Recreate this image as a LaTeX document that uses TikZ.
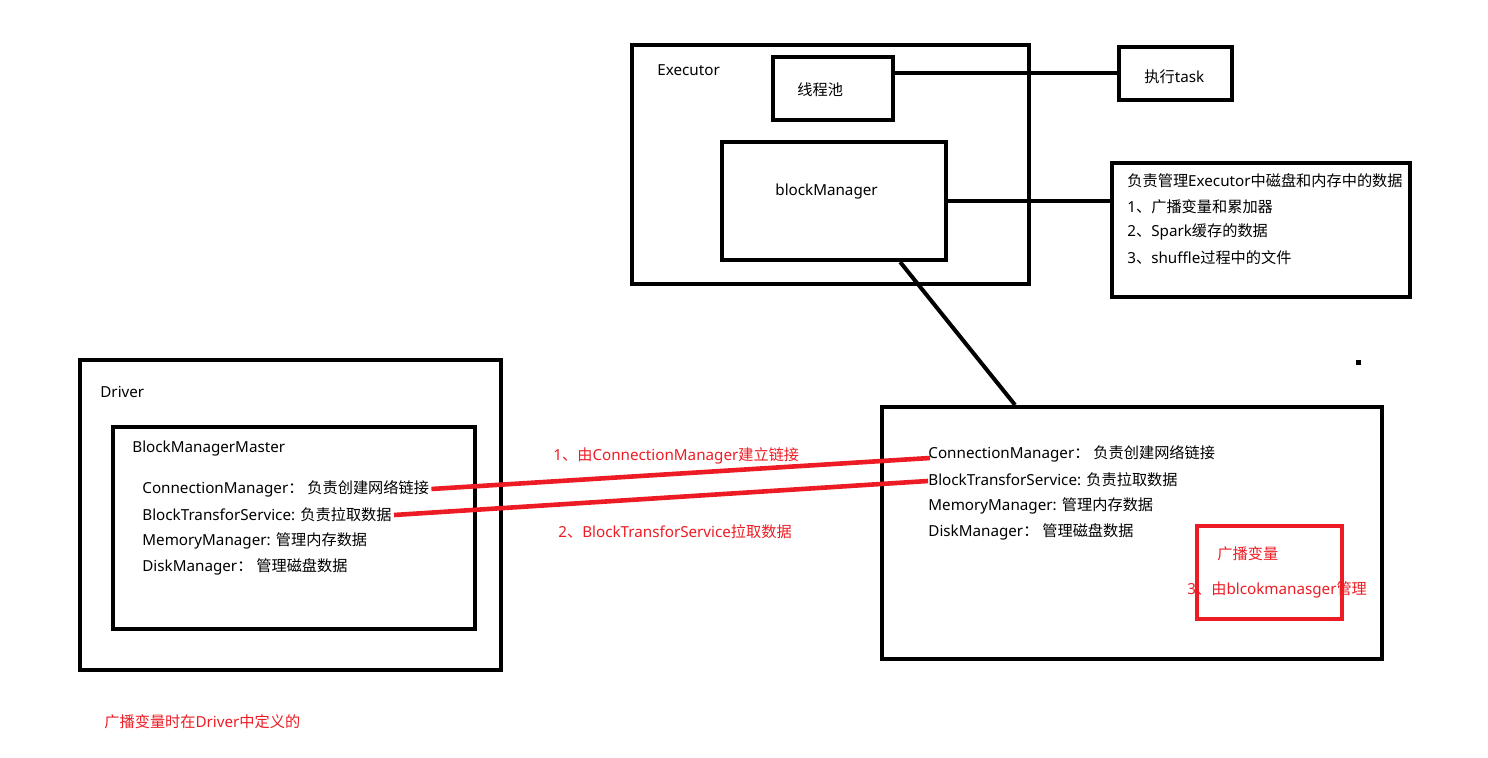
\documentclass[tikz,border=0pt]{standalone}
\usepackage{fontspec}
\setmainfont{Noto Sans}
\newfontfamily\cjk{Noto Sans CJK SC}
\newcommand{\zh}[1]{{\cjk #1}}
\usetikzlibrary{fit,calc}
\definecolor{paintred}{RGB}{237,28,36}
\tikzset{
  box/.style={draw, line width=2pt, inner sep=0pt},
  redbox/.style={draw=paintred, line width=2pt, inner sep=0pt},
  txt/.style={anchor=west, inner sep=1pt, font=\fontsize{7.6}{9}\selectfont},
  redtxt/.style={txt, text=paintred},
  link/.style={line width=2pt},
  redlink/.style={line width=2.3pt, paintred},
}
\begin{document}
\begin{tikzpicture}[x=0.5pt,y=-0.5pt]
	\useasboundingbox (0,0) rectangle (1488,758);

	% executor side
	\node[box, fit={(632,45) (1029,284)}] (exec) {};
	\node[box, fit={(773,57) (893,120)}] (pool) {};
	\node[box, fit={(722,142) (946,260)}] (bm) {};
	\node[box, fit={(1119,47) (1232,100)}] (task) {};
	\node[box, fit={(1112,163) (1410,297)}] (info) {};

	\node[txt] (execl) at (655,70) {Executor};
	\node[txt] (pooll) at (795,90) {\zh{线程池}};
	\node[txt] (bml) at (773,192) {blockManager};
	\node[txt] (taskl) at (1142,77) {\zh{执行}task};
	\node[txt] (info1) at (1125,181) {\zh{负责管理}Executor\zh{中磁盘和内存中的数据}};
	\node[txt] (info2) at (1125,207) {1\zh{、广播变量和累加器}};
	\node[txt] (info3) at (1125,232) {2\zh{、}Spark\zh{缓存的数据}};
	\node[txt] (info4) at (1125,258) {3\zh{、}shuffle\zh{过程中的文件}};

	\draw[link] (task.west) -- (task.west -| pool.east);
	\draw[link] (bm.east) -- (bm.east -| info.west);

	% driver side
	\node[box, fit={(80,360) (501,670)}] (drv) {};
	\node[box, fit={(113,427) (475,629)}] (bmm) {};
	\node[txt] (drvl) at (98,392) {Driver};
	\node[txt] (bmml) at (130,449) {BlockManagerMaster};
	\node[txt] (lcm) at (140,489) {ConnectionManager\zh{：} \zh{负责创建网络链接}};
	\node[txt] (lbt) at (140,515) {BlockTransforService: \zh{负责拉取数据}};
	\node[txt] (lmm) at (140,541) {MemoryManager: \zh{管理内存数据}};
	\node[txt] (ldm) at (140,567) {DiskManager\zh{：} \zh{管理磁盘数据}};

	% worker side
	\node[box, fit={(882,407) (1382,659)}] (wkr) {};
	\node[txt] (rcm) at (926,454) {ConnectionManager\zh{：} \zh{负责创建网络链接}};
	\node[txt] (rbt) at (926,480) {BlockTransforService: \zh{负责拉取数据}};
	\node[txt] (rmm) at (926,506) {MemoryManager: \zh{管理内存数据}};
	\node[txt] (rdm) at (926,532) {DiskManager\zh{：} \zh{管理磁盘数据}};

	\draw[link] ($(bm.south west)!0.79!(bm.south east)$) -- ($(wkr.north west)!0.268!(wkr.north east)$);
	\fill (1356,360) rectangle (1361,365);

	% red notes
	\node[redtxt] (n1) at (551,456) {1\zh{、由}ConnectionManager\zh{建立链接}};
	\node[redtxt] (n2) at (556,532) {2\zh{、}BlockTransforService\zh{拉取数据}};
	\draw[redlink] (lcm.east) -- ($(rcm.west)+(4,4)$);
	\draw[redlink] (lbt.east) -- ($(rbt.west)+(2,1)$);

	\node[redtxt] (bc) at (1215,554) {\zh{广播变量}};
	\node[redtxt] (bc3) at (1185,590) {3\zh{、由}blcokmanasger\zh{管理}};
	\node[redbox, fit={(1197,526) (1342,619)}] (bcbox) {};
	\node[redtxt] (note) at (102,722) {\zh{广播变量时在}Driver\zh{中定义的}};
\end{tikzpicture}
\end{document}
